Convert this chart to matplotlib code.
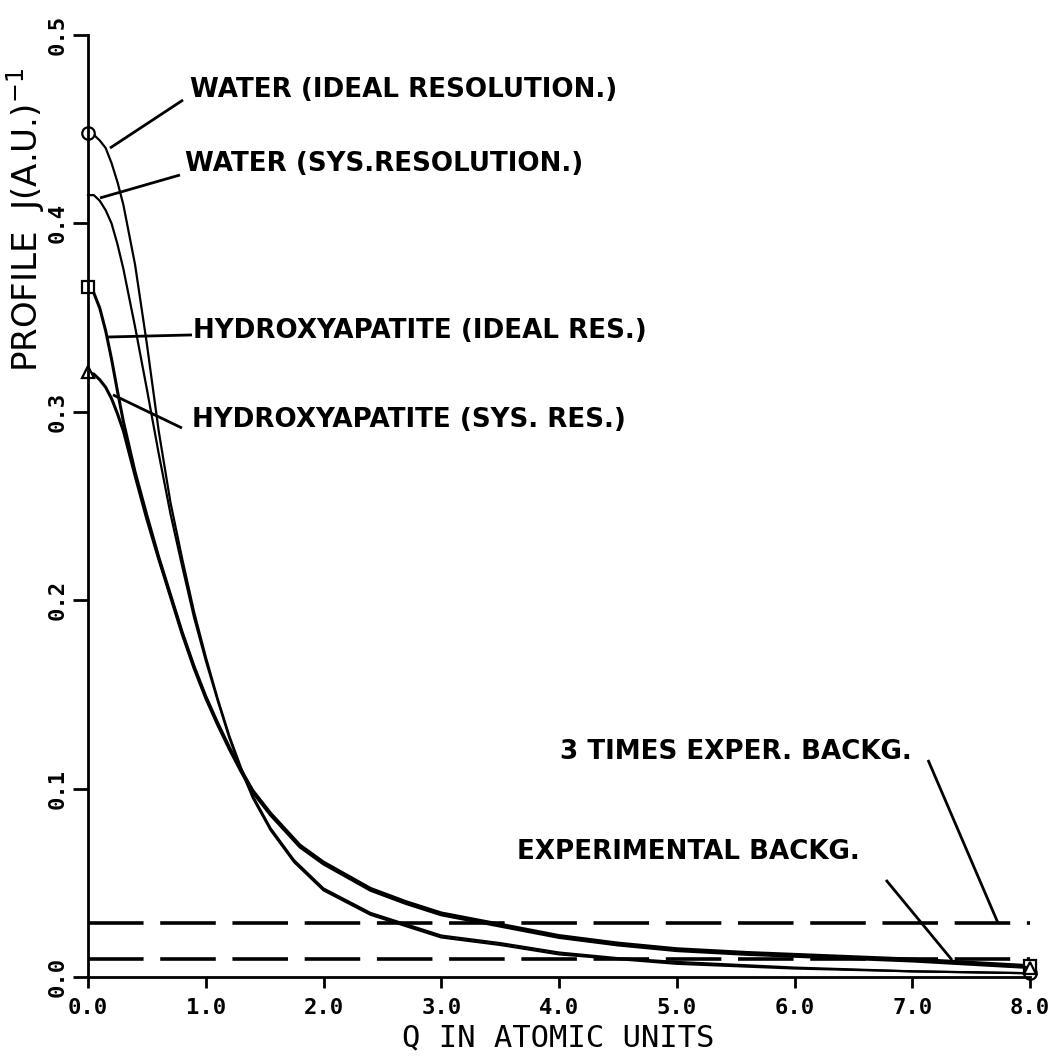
import matplotlib
matplotlib.use("Agg")
import matplotlib.pyplot as plt

# ---------------- data ----------------
water_q = [0.0, 0.05, 0.1, 0.15, 0.2, 0.25, 0.3, 0.4, 0.5, 0.6, 0.7, 0.8, 0.9, 1.0, 1.1,
           1.2, 1.3, 1.4, 1.55, 1.75, 2.0, 2.4, 3.0, 3.5, 4.0, 4.5, 5.0, 6.0, 7.0, 8.0]
water_ideal_j = [0.448, 0.447, 0.444, 0.440, 0.432, 0.422, 0.410, 0.378, 0.336, 0.290,
                 0.252, 0.222, 0.194, 0.170, 0.148, 0.128, 0.111, 0.096, 0.079, 0.062,
                 0.047, 0.034, 0.022, 0.018, 0.013, 0.010, 0.008, 0.005, 0.003, 0.002]
water_sys_j = [0.415, 0.415, 0.412, 0.407, 0.400, 0.389, 0.376, 0.345, 0.312, 0.278,
               0.246, 0.218, 0.191, 0.168, 0.147, 0.127, 0.110, 0.095, 0.078, 0.061,
               0.046, 0.033, 0.021, 0.017, 0.012, 0.0095, 0.007, 0.0045, 0.003, 0.002]

hap_q = [0.0, 0.05, 0.1, 0.15, 0.2, 0.25, 0.3, 0.4, 0.5, 0.6, 0.7, 0.8, 0.9, 1.0, 1.1,
         1.2, 1.3, 1.4, 1.55, 1.8, 2.0, 2.4, 2.7, 3.0, 3.5, 4.0, 4.5, 5.0, 5.6, 6.0, 7.0, 8.0]
hap_ideal_j = [0.366, 0.363, 0.355, 0.343, 0.328, 0.311, 0.295, 0.268, 0.245, 0.223,
               0.203, 0.183, 0.165, 0.149, 0.135, 0.122, 0.110, 0.099, 0.087, 0.070,
               0.061, 0.047, 0.040, 0.034, 0.028, 0.022, 0.018, 0.015, 0.013, 0.012,
               0.0095, 0.006]
hap_sys_j = [0.321, 0.320, 0.317, 0.313, 0.307, 0.299, 0.290, 0.266, 0.243, 0.222,
             0.202, 0.182, 0.164, 0.148, 0.134, 0.121, 0.109, 0.098, 0.086, 0.069,
             0.060, 0.046, 0.039, 0.033, 0.027, 0.021, 0.017, 0.014, 0.012, 0.011,
             0.0085, 0.005]

exp_background = 0.0095
three_times_background = 0.0285

x_ticks = [0, 1, 2, 3, 4, 5, 6, 7, 8]
y_ticks = [0.0, 0.1, 0.2, 0.3, 0.4, 0.5]

labels = {
    "water_ideal": "WATER (IDEAL RESOLUTION.)",
    "water_sys": "WATER (SYS.RESOLUTION.)",
    "hap_ideal": "HYDROXYAPATITE (IDEAL RES.)",
    "hap_sys": "HYDROXYAPATITE (SYS. RES.)",
    "bg3": "3 TIMES EXPER. BACKG.",
    "bg": "EXPERIMENTAL BACKG.",
}

# ---------------- figure ----------------
plt.rcParams["lines.scale_dashes"] = False
fig = plt.figure(figsize=(10.6, 10.57), dpi=100)
ax = fig.add_axes([88 / 1060, 1 - 977 / 1057, (1030 - 88) / 1060, (977 - 35) / 1057])
ax.set_xlim(0, 8)
ax.set_ylim(0, 0.5)

for s in ("top", "right"):
    ax.spines[s].set_visible(False)
for s in ("left", "bottom"):
    ax.spines[s].set_linewidth(2.0)

mk = dict(markersize=9, markerfacecolor="white", markeredgecolor="black",
          markeredgewidth=1.6, clip_on=False)
ax.plot(water_q, water_ideal_j, color="black", lw=1.6, marker="o",
        markevery=[0, len(water_q) - 1], **mk)
ax.plot(water_q, water_sys_j, color="black", lw=1.6, clip_on=False)
ax.plot(hap_q, hap_ideal_j, color="black", lw=2.2, marker="s",
        markevery=[0, len(hap_q) - 1], **mk)
ax.plot(hap_q, hap_sys_j, color="black", lw=2.2, marker="^",
        markevery=[0, len(hap_q) - 1], **mk)

ax.plot([0, 8], [three_times_background] * 2, color="black", lw=2.6, dashes=(40, 12),
        clip_on=False)
ax.plot([0, 8], [exp_background] * 2, color="black", lw=2.6, dashes=(40, 12),
        clip_on=False)

# ticks
ax.set_xticks(x_ticks)
ax.set_xticklabels([f"{v:.1f}" for v in x_ticks], family="DejaVu Sans Mono",
                   fontsize=16, fontweight="bold")
ax.set_yticks(y_ticks)
ax.set_yticklabels([f"{v:.1f}" for v in y_ticks], family="DejaVu Sans Mono",
                   fontsize=16, fontweight="bold", rotation=90, va="center")
ax.tick_params(axis="x", direction="out", length=8, width=2.0, pad=7)
ax.tick_params(axis="y", direction="out", length=11, width=2.0, pad=4)

# axis titles
fig.text(558 / 1060, 1 - 1038 / 1057, "Q IN ATOMIC UNITS", family="DejaVu Sans Mono",
         fontsize=22, ha="center", va="center")
fig.text(26 / 1060, 1 - 220 / 1057, "PROFILE  J(A.U.)$^{-1}$", family="DejaVu Sans",
         fontsize=24.5, rotation=90, ha="center", va="center")

# annotations with leader lines
lead = dict(color="black", lw=2.0, clip_on=False, solid_capstyle="butt")
tkw = dict(family="DejaVu Sans", fontweight="bold", fontsize=18.8, va="center")

ax.plot([0.187, 0.807], [0.440, 0.4655], **lead)
ax.text(0.866, 0.471, labels["water_ideal"], ha="left", **tkw)

ax.plot([0.102, 0.781], [0.4135, 0.4257], **lead)
ax.text(0.824, 0.4315, labels["water_sys"], ha="left", **tkw)

ax.plot([0.170, 0.883], [0.3397, 0.3408], **lead)
ax.text(0.89, 0.343, labels["hap_ideal"], ha="left", **tkw)

ax.plot([0.212, 0.798], [0.309, 0.2914], **lead)
ax.text(0.883, 0.2955, labels["hap_sys"], ha="left", **tkw)

ax.plot([7.134, 7.728], [0.1152, 0.0287], **lead)
ax.text(7.0, 0.1194, labels["bg3"], ha="right", **tkw)

ax.plot([6.777, 7.338], [0.0515, 0.0090], **lead)
ax.text(3.643, 0.0663, labels["bg"], ha="left", **tkw)

fig.savefig("out.png", dpi=100, facecolor="white")
